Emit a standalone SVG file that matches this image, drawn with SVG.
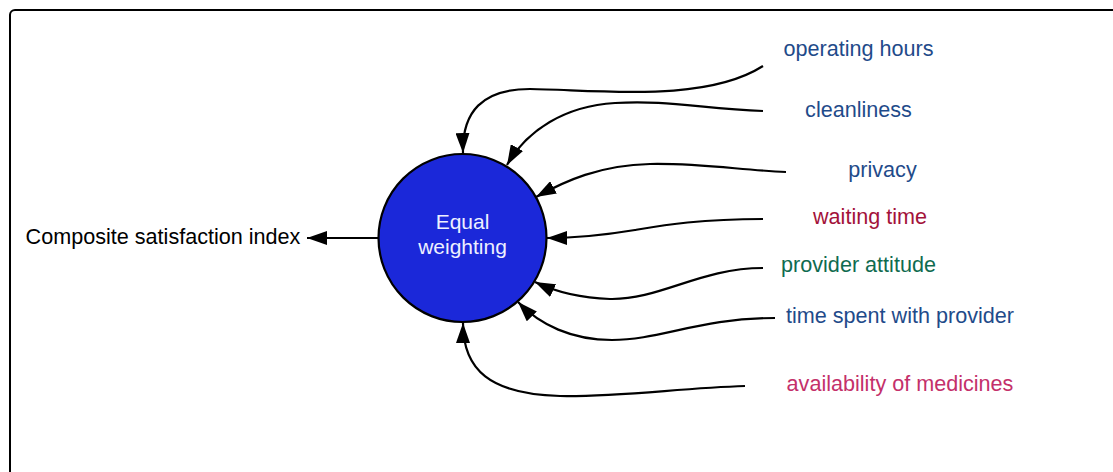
<svg xmlns="http://www.w3.org/2000/svg" width="1113" height="472" viewBox="0 0 1113 472">
<style>
.lbl{font-family:"Liberation Sans",Arial,sans-serif;font-size:21.6px;text-anchor:middle}
.ctr{font-family:"Liberation Sans",Arial,sans-serif;font-size:21px;text-anchor:middle;fill:#eef0ff}
.blue{fill:#1f4b8a}
.red{fill:#a3123a}
.green{fill:#0f6b4f}
.pink{fill:#c4306a}
.con{fill:none;stroke:#000;stroke-width:2.2}
</style>
<defs>
<marker id="ah" markerWidth="20" markerHeight="14" refX="20" refY="7" orient="auto" markerUnits="userSpaceOnUse">
<path d="M0,0 L20,7 L0,14 Z" fill="#000"/>
</marker>
</defs>
<rect x="10" y="10" width="1130" height="490" rx="5" ry="5" fill="#fff" stroke="#000" stroke-width="2"/>
<g id="node-index">
<text class="lbl" x="163" y="244" fill="#000">Composite satisfaction index</text>
</g>
<g id="node-center">
<circle cx="462.5" cy="238" r="84" fill="#1b28d9" stroke="#000" stroke-width="2.2"/>
<text class="ctr" x="462.5" y="229">Equal</text>
<text class="ctr" x="462.5" y="254">weighting</text>
</g>
<g id="node-operating"><text class="lbl blue" x="858.5" y="56">operating hours</text></g>
<g id="node-cleanliness"><text class="lbl blue" x="858.5" y="117">cleanliness</text></g>
<g id="node-privacy"><text class="lbl blue" x="882.5" y="177">privacy</text></g>
<g id="node-waiting"><text class="lbl red" x="870" y="224">waiting time</text></g>
<g id="node-attitude"><text class="lbl green" x="858.5" y="272">provider attitude</text></g>
<g id="node-timespent"><text class="lbl blue" x="900" y="323">time spent with provider</text></g>
<g id="node-medicines"><text class="lbl pink" x="900" y="391">availability of medicines</text></g>
<g id="connectors">
<path class="con" marker-end="url(#ah)" d="M378,238 L307,238"/>
<path class="con" marker-end="url(#ah)" d="M763,66 C705,103 600,90 530,89 C482,89 462,112 463,153"/>
<path class="con" marker-end="url(#ah)" d="M763,111 C700,108 665,100 615,103 C565,106 527,130 507,165"/>
<path class="con" marker-end="url(#ah)" d="M786,172 C740,170 700,163 650,164 C600,165 565,181 536,197"/>
<path class="con" marker-end="url(#ah)" d="M763,219 C700,219 665,225 635,230 C605,235 580,238 547,238"/>
<path class="con" marker-end="url(#ah)" d="M763,268 C700,268 660,300 610,299 C580,298 556,292 535,282"/>
<path class="con" marker-end="url(#ah)" d="M775,318 C700,318 660,340 612,340 C572,340 540,325 518,302"/>
<path class="con" marker-end="url(#ah)" d="M745,386 C680,388 620,397 560,396 C490,394 463,370 463,323"/>
</g>
</svg>
